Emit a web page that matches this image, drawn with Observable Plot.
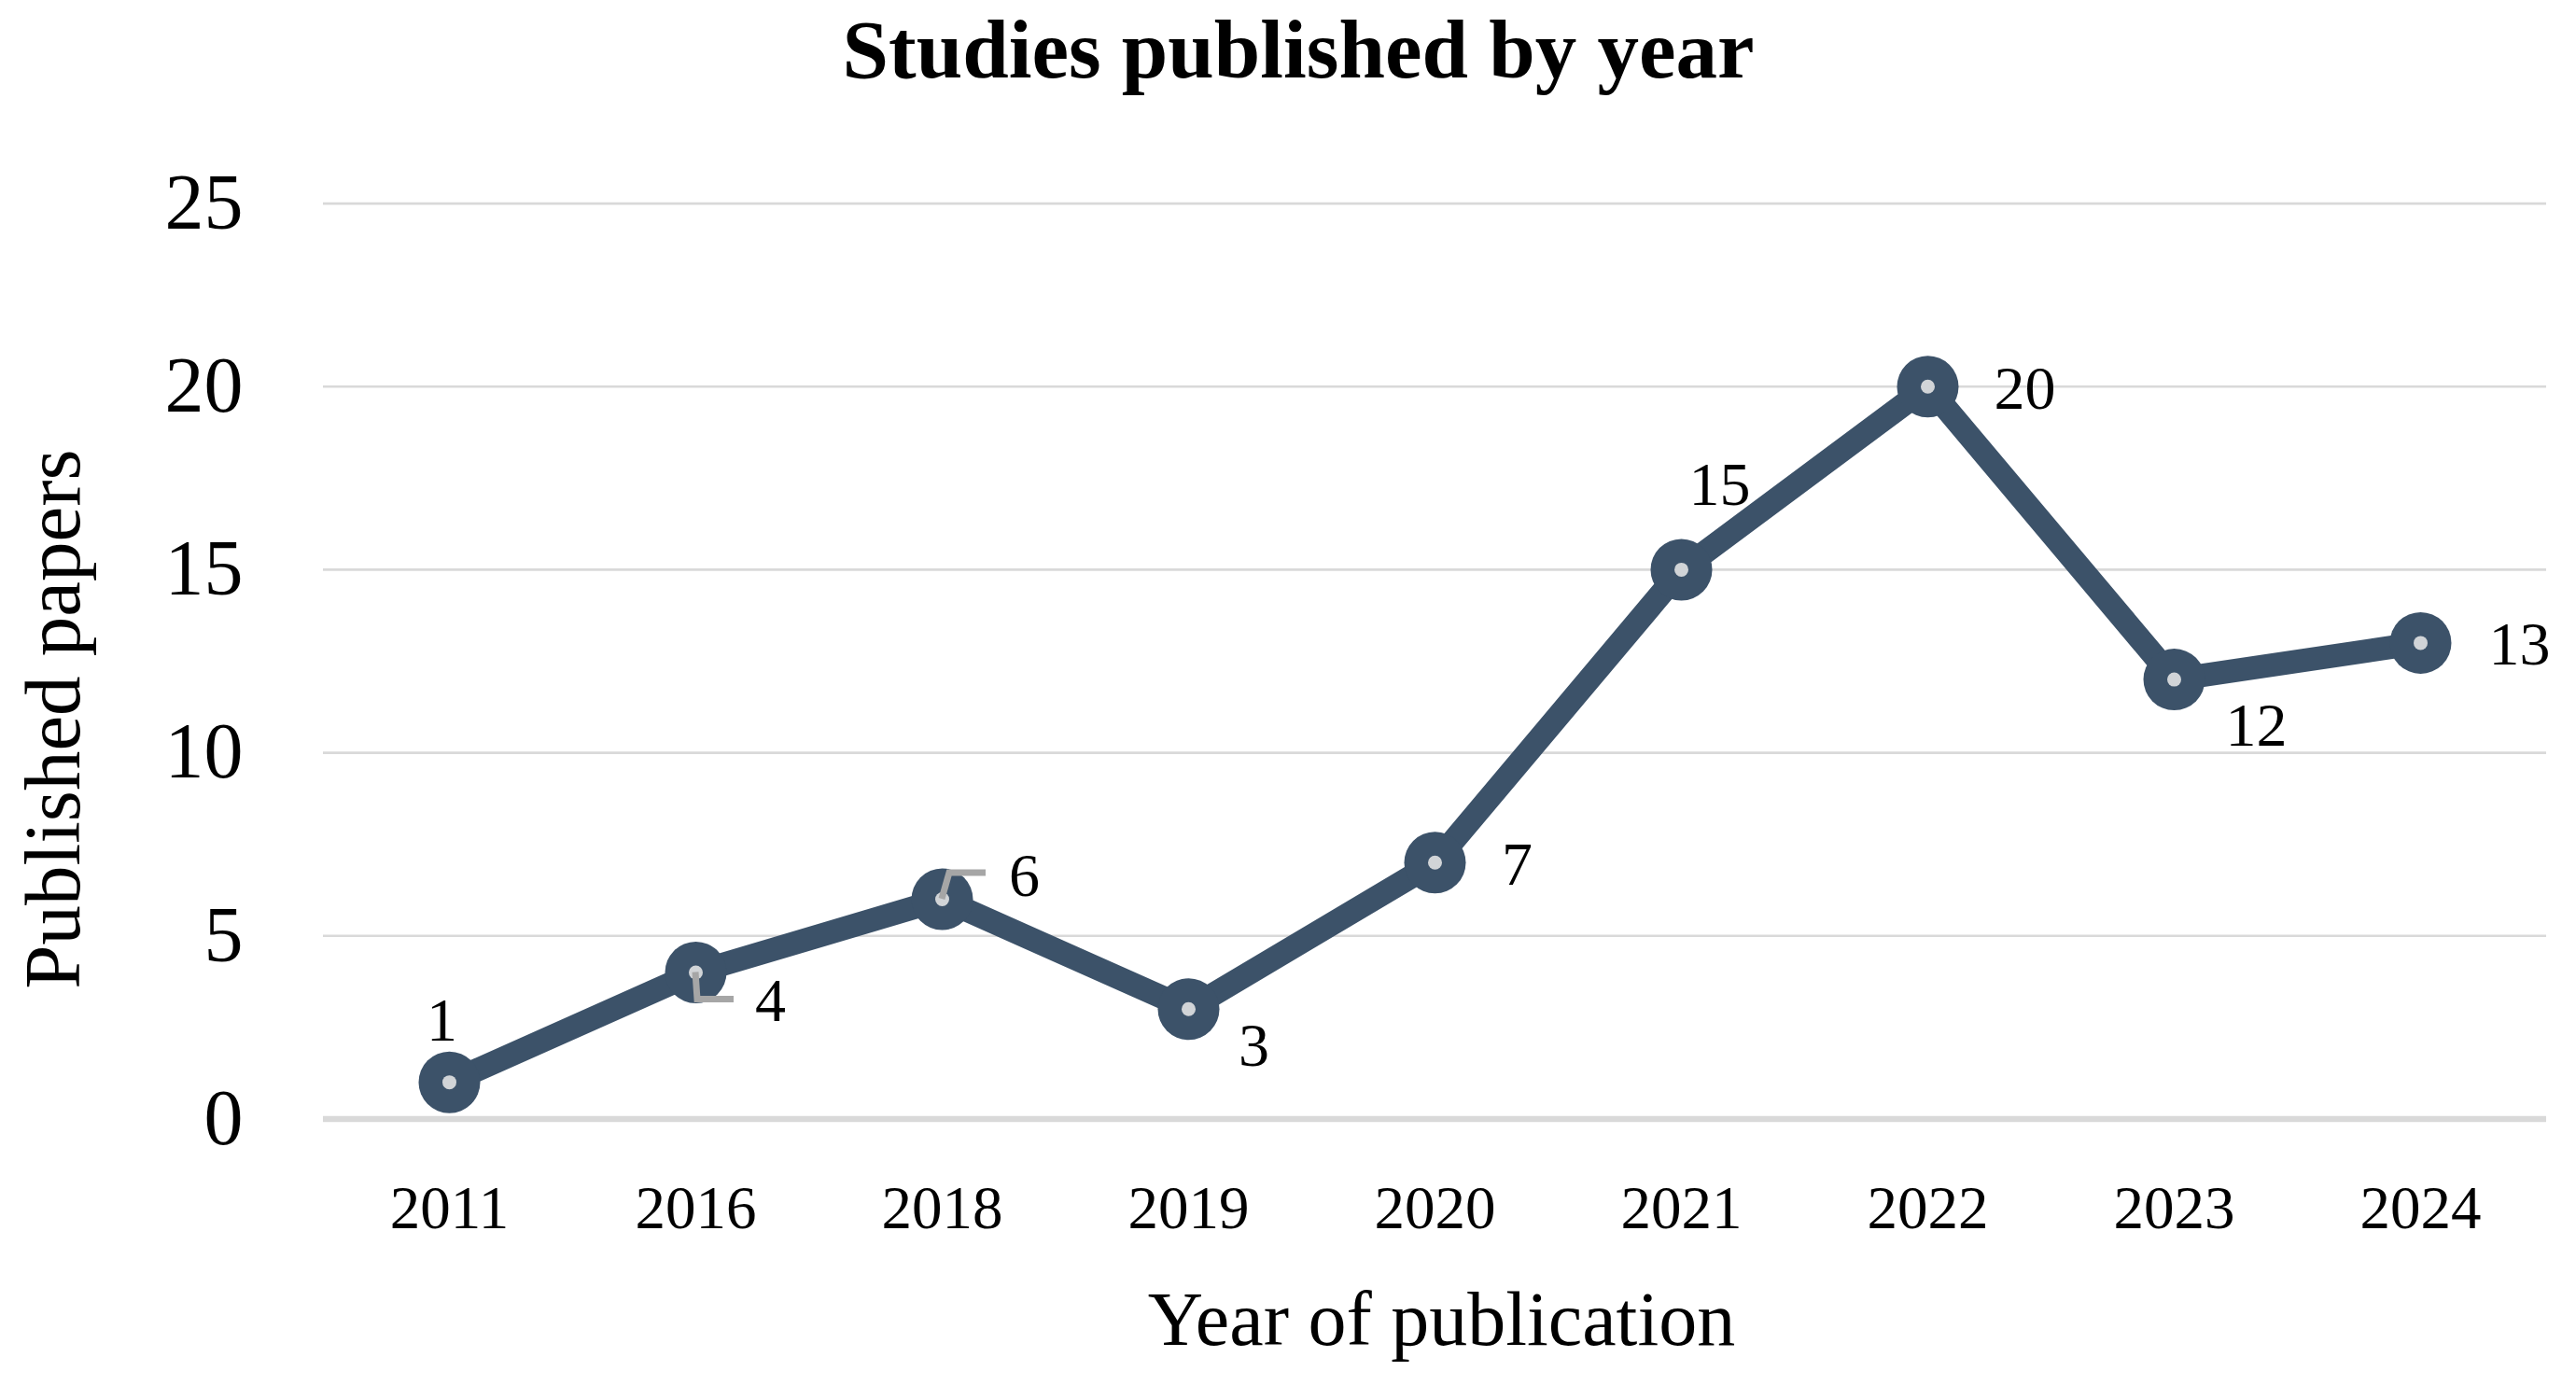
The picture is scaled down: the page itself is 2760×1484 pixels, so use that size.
<!DOCTYPE html>
<html>
<head>
<meta charset="utf-8">
<script src="https://cdn.jsdelivr.net/npm/d3@7"></script>
<script src="https://cdn.jsdelivr.net/npm/@observablehq/plot@0.6"></script>
<style>
  html, body { margin: 0; padding: 0; background: #ffffff; }
  #wrap { width: 2760px; height: 1484px; overflow: hidden; background: #ffffff; }
  #title {
    width: 2760px; box-sizing: border-box; padding-left: 22px;
    height: 108px; line-height: 106px; text-align: center;
    font-family: "Liberation Serif", serif; font-weight: bold; font-size: 89px; color: #000;
  }
  #chart svg { display: block; }
</style>
</head>
<body>
<div id="wrap">
  <div id="title">Studies published by year</div>
  <div id="chart"></div>
</div>
<script>
// ---- data ----
const years = ["2011", "2016", "2018", "2019", "2020", "2021", "2022", "2023", "2024"];
const papers = [1, 4, 6, 3, 7, 15, 20, 12, 13];
const yTicks = [0, 5, 10, 15, 20, 25];
const xTitle = "Year of publication";
const yTitle = "Published papers";

// ---- layout config (label placement in px relative to each point) ----
const labelShift = [[-8, -66], [80, 31], [88, -25], [70, 40], [88, 3], [41, -91], [104, 3], [88, 50], [106, 2]];
// leader lines (px offsets from point) for the labels that have them
const leaderShift = { "2016": [[0, 0], [2, 29], [41, 29]], "2018": [[0, 0], [8, -28], [47, -28]] };

const rows = years.map((year, i) => ({ year, papers: papers[i] }));

const lineColor = "#3c5269";
const font = "Liberation Serif";

const leaders = (index, scales) => {
  const g = d3.create("svg:g");
  rows.forEach(d => {
    const pts = leaderShift[d.year];
    if (!pts) return;
    const px = scales.x(d.year), py = scales.y(d.papers);
    g.append("path")
      .attr("d", "M" + pts.map(([a, b]) => `${px + a},${py + b}`).join("L"))
      .attr("fill", "none")
      .attr("stroke", "#a6a6a6")
      .attr("stroke-width", 7);
  });
  return g.node();
};

const labels = rows.map((d, i) => Plot.text([d], {
  x: "year", y: "papers", text: r => String(r.papers),
  dx: labelShift[i][0], dy: labelShift[i][1],
  fontSize: 66, fill: "#000", lineAnchor: "middle", textAnchor: "middle"
}));

const chart = Plot.plot({
  width: 2760,
  height: 1376,
  marginTop: 109.6,
  marginBottom: 285.6,
  marginLeft: 346,
  marginRight: 32,
  style: { fontFamily: font, background: "#ffffff", color: "#000", overflow: "visible" },
  x: { type: "point", domain: years, padding: 0.5, align: 0.5, label: null },
  y: { domain: [0, 25], label: null },
  marks: [
    Plot.gridY(yTicks, { stroke: "#d9d9d9", strokeOpacity: 1, strokeWidth: 2.7 }),
    Plot.ruleY([0], { stroke: "#d9d9d9", strokeWidth: 6.5 }),
    Plot.axisY(yTicks, { tickSize: 0, tickPadding: 86, fontSize: 84, fill: "#000", label: null }),
    Plot.axisX({ tickSize: 0, tickPadding: 71.4, fontSize: 65, fill: "#000", label: null }),
    Plot.line(rows, { x: "year", y: "papers", stroke: lineColor, strokeWidth: 25, strokeLinejoin: "round" }),
    Plot.dot(rows, { x: "year", y: "papers", r: 33, fill: lineColor, stroke: "none" }),
    Plot.dot(rows, { x: "year", y: "papers", r: 7.5, fill: "#d1d4d7", stroke: "none" }),
    leaders,
    ...labels,
    Plot.text([xTitle], { text: d => d, frameAnchor: "bottom", dx: 7, dy: 183.5, lineAnchor: "top", fontSize: 82, fill: "#000" }),
    Plot.text([yTitle], { text: d => d, frameAnchor: "left", rotate: -90, dx: -321.6, dy: 62, lineAnchor: "top", textAnchor: "middle", fontSize: 85, fill: "#000" })
  ]
});

document.getElementById("chart").appendChild(chart);
</script>
</body>
</html>
